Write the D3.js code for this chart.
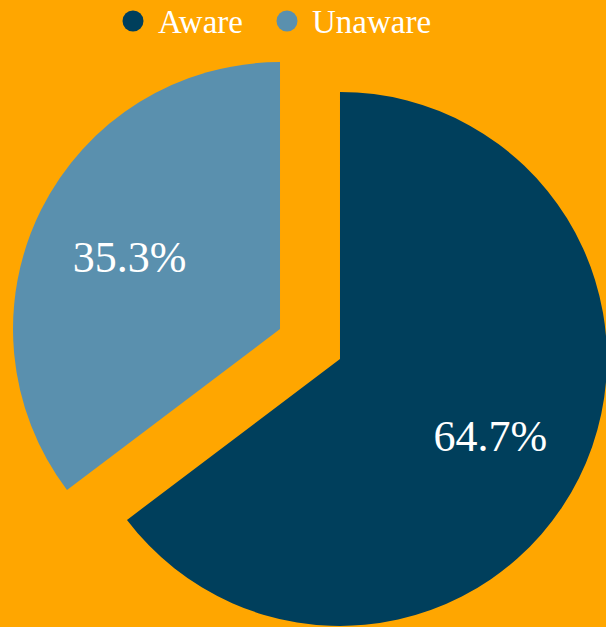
<!DOCTYPE html>
<html lang="en">
<head>
<meta charset="utf-8">
<title>Awareness</title>
<script src="https://d3js.org/d3.v7.min.js"></script>
<style>
  html, body { margin: 0; padding: 0; background: #ffa600; }
  svg { display: block; }
  text { font-family: "Liberation Serif", "DejaVu Serif", serif; fill: #fff; }
</style>
</head>
<body>
<script>
// chart data
var categories = ["Aware", "Unaware"];
var shares = [64.7, 35.3];
var colours = ["#003f5c", "#5a90ae"];

var width = 606, height = 627;
var cx = 310, cy = 344, radius = 267, explode = 33.5;

var svg = d3.select("body").append("svg")
    .attr("width", width)
    .attr("height", height);

var data = categories.map(function(c, i) { return { name: c, value: shares[i] }; });

var pie = d3.pie().sort(null).value(function(d) { return d.value; });
var arc = d3.arc().innerRadius(0).outerRadius(radius);

var g = svg.append("g").attr("transform", "translate(" + cx + "," + cy + ")");

var slices = g.selectAll(".slice")
    .data(pie(data))
    .enter()
    .append("g")
    .attr("class", "slice")
    .attr("transform", function(d) {
        var mid = (d.startAngle + d.endAngle) / 2;
        return "translate(" + (Math.sin(mid) * explode) + "," + (-Math.cos(mid) * explode) + ")";
    });

slices.append("path")
    .attr("d", arc)
    .attr("fill", function(d, i) { return colours[i]; });

// percentage labels
slices.append("text")
    .attr("transform", function(d) {
        var mid = (d.startAngle + d.endAngle) / 2, r = 168;
        return "translate(" + (Math.sin(mid) * r) + "," + (-Math.cos(mid) * r) + ")";
    })
    .attr("text-anchor", "middle")
    .attr("dy", "0.4em")
    .style("font-size", "44px")
    .text(function(d) { return d.data.value.toFixed(1) + "%"; });

// legend
var legendX = [133, 287];
var legend = svg.selectAll(".legend")
    .data(data)
    .enter()
    .append("g")
    .attr("class", "legend")
    .attr("transform", function(d, i) { return "translate(" + legendX[i] + ",21)"; });

legend.append("circle")
    .attr("r", 10.5)
    .attr("fill", function(d, i) { return colours[i]; });

legend.append("text")
    .attr("x", 25)
    .attr("dy", "0.35em")
    .style("font-size", "33px")
    .text(function(d) { return d.name; });
</script>
</body>
</html>
